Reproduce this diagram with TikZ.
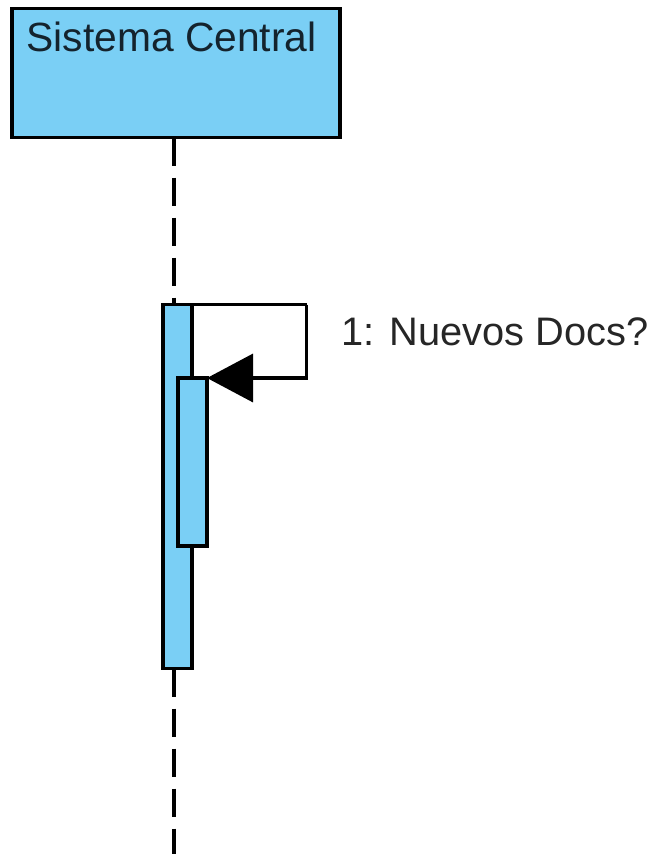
\documentclass[tikz,border=0pt]{standalone}
\usepackage{fontspec}
\setmainfont{Liberation Sans}
\usetikzlibrary{arrows.meta}
\definecolor{lblue}{RGB}{122,207,245}
\definecolor{dtext}{RGB}{20,35,45}
\begin{document}
\begin{tikzpicture}[x=1pt,y=-1pt,
  lifebox/.style={draw=black,line width=3.4pt,fill=lblue,inner sep=0,outer sep=0,minimum width=328pt,minimum height=129.4pt},
  actbox/.style={draw=black,line width=3.4pt,fill=lblue,inner sep=0,outer sep=0,minimum width=29pt},
  lifeline/.style={line width=3.4pt,dash pattern=on 28pt off 12pt},
  msg/.style={line width=3.4pt,-{Triangle[length=46pt,width=48pt]}},
  txt/.style={inner sep=0,outer sep=0,font=\fontsize{40.8}{41}\selectfont}]
\useasboundingbox (0,0) rectangle (656,854);
\node[lifebox] (sc) at (175.8,73) {};
\node[txt,anchor=base west,text=dtext] (sctext) at (26.5,51) {Sistema Central};
\coordinate (lt) at (174,137.7);
\coordinate (lb) at (174,854);
\node[actbox,minimum height=364pt] (act1) at (177.5,486.5) {};
\draw[lifeline] (lt) -- (lt |- act1.north);
\draw[lifeline] (lt |- act1.south) -- (lb);
\node[actbox,minimum height=168pt] (act2) at (192.5,462) {};
\draw[line width=3.4pt,line join=miter] (act1.north east) -- ++(114.5,0) coordinate (c1);
\draw[msg] (c1) -- (c1 |- act2.north) -- (act2.north east);
\node[txt,anchor=base west,font=\fontsize{39.8}{40}\selectfont,text=black!85] (m1) at (341.5,345) {1: Nuevos Docs?};
\end{tikzpicture}
\end{document}
